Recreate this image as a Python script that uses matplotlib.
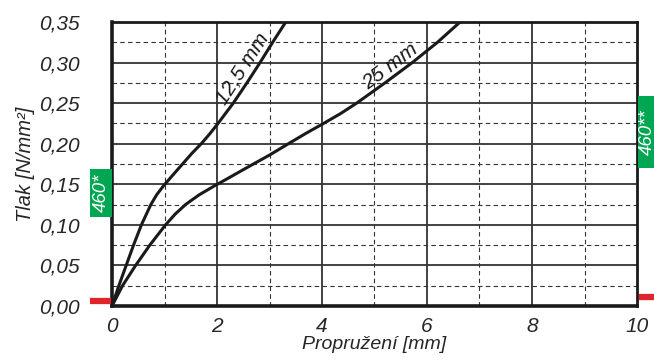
import matplotlib
matplotlib.use("Agg")
import matplotlib.pyplot as plt
from matplotlib.patches import Rectangle
from matplotlib.lines import Line2D

plt.rcParams['font.family'] = ['Liberation Sans Narrow', 'Liberation Sans', 'DejaVu Sans']
plt.rcParams['font.style'] = 'italic'

# curves (deflection in mm, pressure in N/mm2)
x_125 = [0, 0.13, 0.27, 0.41, 0.56, 0.74, 0.85, 0.98, 1.14, 1.33, 1.52, 1.70, 1.86, 2.02,
         2.17, 2.31, 2.57, 2.82, 3.06, 3.31]
y_125 = [0, 0.025, 0.05, 0.075, 0.10, 0.125, 0.137, 0.148, 0.160, 0.174, 0.188, 0.20, 0.212, 0.225,
         0.238, 0.25, 0.275, 0.30, 0.325, 0.35]

x_25 = [0, 0.20, 0.45, 0.72, 1.02, 1.20, 1.40, 1.66, 1.95, 2.20, 2.50, 3.0, 3.36, 3.70, 4.03,
        4.35, 4.66, 5.20, 5.72, 6.20, 6.63]
y_25 = [0, 0.025, 0.05, 0.075, 0.10, 0.113, 0.125, 0.137, 0.148, 0.157, 0.168, 0.186, 0.20, 0.213, 0.225,
        0.237, 0.25, 0.275, 0.30, 0.325, 0.35]

x_ticks = [0, 2, 4, 6, 8, 10]
y_ticks = [0.00, 0.05, 0.10, 0.15, 0.20, 0.25, 0.30, 0.35]
x_minor = [1, 3, 5, 7, 9]
y_minor = [0.025, 0.075, 0.125, 0.175, 0.225, 0.275, 0.325]

W, H = 654, 360
fig = plt.figure(figsize=(W / 100, H / 100), dpi=100)
ax = fig.add_axes([112 / W, 1 - 306 / H, 525 / W, 284 / H])

ax.set_xlim(0, 10)
ax.set_ylim(0, 0.35)

# grid
for v in x_ticks[1:-1]:
    ax.axvline(v, color='#333333', lw=1.3, zorder=1)
for v in y_ticks[1:-1]:
    ax.axhline(v, color='#333333', lw=1.3, zorder=1)
for v in x_minor:
    ax.axvline(v, color='#333333', lw=0.8, ls=(0, (4, 3)), zorder=1)
for v in y_minor:
    ax.axhline(v, color='#333333', lw=0.8, ls=(0, (4, 3)), zorder=1)

ax.plot(x_125, y_125, color='#1a1a1a', lw=2.2, zorder=3, solid_joinstyle='round')
ax.plot(x_25, y_25, color='#1a1a1a', lw=2.2, zorder=3, solid_joinstyle='round')

ax.text(2.48, 0.292, '12,5 mm', rotation=57, fontsize=15, ha='center', va='center', color='#1a1a1a')
ax.text(5.30, 0.295, '25 mm', rotation=37, fontsize=15, ha='center', va='center', color='#1a1a1a')

for s in ax.spines.values():
    s.set_linewidth(2.0)
    s.set_color('#1a1a1a')
ax.spines['left'].set_linewidth(2.6)
ax.spines['bottom'].set_linewidth(2.6)

ax.set_xticks(x_ticks)
ax.set_yticks(y_ticks)
ax.set_xticklabels([str(v) for v in x_ticks])
ax.set_yticklabels([f'{v:.2f}'.replace('.', ',') for v in y_ticks])
ax.tick_params(axis='both', length=0, labelsize=15, colors='#262626')
ax.tick_params(axis='y', pad=23)
ax.tick_params(axis='x', pad=8)

ax.set_xlabel('Propružení [mm]', fontsize=14, color='#262626', labelpad=0)
ax.set_ylabel('Tlak [N/mm²]', fontsize=14.5, color='#262626', labelpad=3)

# green markers and red zero lines
green = '#00a651'
red = '#e0242b'
fig.patches.append(Rectangle((90 / W, 1 - 217 / H), 22 / W, 48 / H, transform=fig.transFigure,
                             facecolor=green, edgecolor='none'))
fig.text(101 / W, 1 - 193 / H, '460*', rotation=90, color='white', fontsize=13.5,
         ha='center', va='center')
fig.patches.append(Rectangle((638 / W, 1 - 168 / H), 20 / W, 72 / H, transform=fig.transFigure,
                             facecolor=green, edgecolor='none'))
fig.text(647 / W, 1 - 132 / H, '460**', rotation=90, color='white', fontsize=13.5,
         ha='center', va='center')
fig.lines.append(Line2D([90 / W, 111 / W], [1 - 301 / H, 1 - 301 / H], transform=fig.transFigure,
                        color=red, lw=4.5, solid_capstyle='butt'))
fig.lines.append(Line2D([639 / W, 1.0], [1 - 297 / H, 1 - 297 / H], transform=fig.transFigure,
                        color=red, lw=4.5, solid_capstyle='butt'))

fig.savefig('out.png', dpi=100)
